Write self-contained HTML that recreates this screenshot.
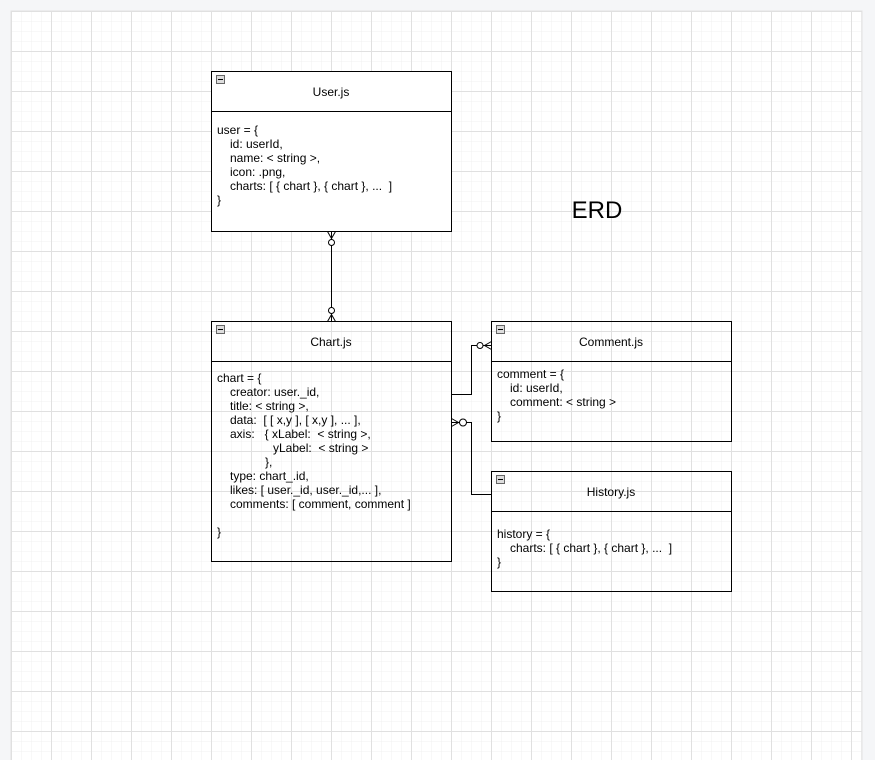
<!DOCTYPE html>
<html><head><meta charset="utf-8"><style>
html,body{margin:0;padding:0;background:#f5f6f8;}
body{width:875px;height:760px;overflow:hidden;position:relative;}
svg{position:absolute;left:0;top:0;}
text{font-family:"Liberation Sans",Helvetica,sans-serif;font-size:12px;fill:#000;white-space:pre;}
</style></head><body>
<svg width="875" height="760" viewBox="0 0 875 760" xml:space="preserve">
<defs>
<pattern id="minor" x="11" y="11" width="10" height="10" patternUnits="userSpaceOnUse">
<path d="M10 0H0V10" fill="none" stroke="#f0f0f0" stroke-width="1"/>
</pattern>
<pattern id="major" x="11" y="11" width="40" height="40" patternUnits="userSpaceOnUse">
<path d="M40 0.5H0.5V40" fill="none" stroke="#e0e0e0" stroke-width="1"/>
</pattern>
</defs>
<rect x="11" y="11" width="851" height="760" fill="#fff" stroke="#e2e2e2"/>
<rect x="11.5" y="11.5" width="850" height="760" fill="url(#minor)"/>
<rect x="11" y="11" width="851" height="760" fill="url(#major)"/>

<text x="597" y="218" text-anchor="middle" style="font-size:24px">ERD</text>

<g fill="none" stroke="#000" stroke-width="1">
<rect x="211.5" y="71.5" width="240" height="160" fill="#fff"/>
<line x1="211.5" y1="111.5" x2="451.5" y2="111.5"/>
<rect x="211.5" y="321.5" width="240" height="240"/>
<line x1="211.5" y1="361.5" x2="451.5" y2="361.5"/>
<rect x="491.5" y="321.5" width="240" height="120"/>
<line x1="491.5" y1="361.5" x2="731.5" y2="361.5"/>
<rect x="491.5" y="471.5" width="240" height="120"/>
<line x1="491.5" y1="511.5" x2="731.5" y2="511.5"/>

<line x1="331.5" y1="231.5" x2="331.5" y2="321.5"/>
<path d="M327.5 231.5L331.5 238.5L335.5 231.5"/>
<circle cx="331.5" cy="242.5" r="3" fill="#fff"/>
<path d="M327.5 321.5L331.5 314.5L335.5 321.5"/>
<circle cx="331.5" cy="310.5" r="3" fill="#fff"/>

<path d="M451.5 394.5H471.5V345.5H491.5"/>
<path d="M491.5 341.5L484.5 345.5L491.5 349.5"/>
<circle cx="480" cy="345.5" r="3" fill="#fff"/>

<path d="M491.5 494.5H471.5V422.5H451.5"/>
<path d="M451.5 418.5L458.5 422.5L451.5 426.5"/>
<circle cx="463" cy="422.5" r="3.5" fill="#fff"/>
</g>

<g stroke="#666" stroke-width="1" fill="#ddd">
<rect x="216.5" y="75.5" width="8" height="8"/>
<rect x="216.5" y="325.5" width="8" height="8"/>
<rect x="496.5" y="325.5" width="8" height="8"/>
<rect x="496.5" y="475.5" width="8" height="8"/>
</g>
<g stroke="#000" stroke-width="1">
<line x1="218" y1="79.5" x2="223" y2="79.5"/>
<line x1="218" y1="329.5" x2="223" y2="329.5"/>
<line x1="498" y1="329.5" x2="503" y2="329.5"/>
<line x1="498" y1="479.5" x2="503" y2="479.5"/>
</g>

<text x="331" y="96" text-anchor="middle">User.js</text>
<text x="331" y="346" text-anchor="middle">Chart.js</text>
<text x="611" y="346" text-anchor="middle">Comment.js</text>
<text x="611" y="496" text-anchor="middle">History.js</text>

<text x="217" y="134">user = {</text>
<text x="230" y="148">id: userId,</text>
<text x="230" y="162">name: &lt; string &gt;,</text>
<text x="230" y="176">icon: .png,</text>
<text x="230" y="190">charts: [ { chart }, { chart }, ...  ]</text>
<text x="217" y="204">}</text>

<text x="217" y="382">chart = {</text>
<text x="230" y="396">creator: user._id,</text>
<text x="230" y="410">title: &lt; string &gt;,</text>
<text x="230" y="424">data:  [ [ x,y ], [ x,y ], ... ],</text>
<text x="230" y="438">axis:   { xLabel:  &lt; string &gt;,</text>
<text x="273" y="452">yLabel:  &lt; string &gt;</text>
<text x="265" y="466">},</text>
<text x="230" y="480">type: chart_.id,</text>
<text x="230" y="494">likes: [ user._id, user._id,... ],</text>
<text x="230" y="508">comments: [ comment, comment ]</text>
<text x="217" y="536">}</text>

<text x="497" y="378">comment = {</text>
<text x="510" y="392">id: userId,</text>
<text x="510" y="406">comment: &lt; string &gt;</text>
<text x="497" y="420">}</text>

<text x="497" y="538">history = {</text>
<text x="510" y="552">charts: [ { chart }, { chart }, ...  ]</text>
<text x="497" y="566">}</text>
</svg>
</body></html>
